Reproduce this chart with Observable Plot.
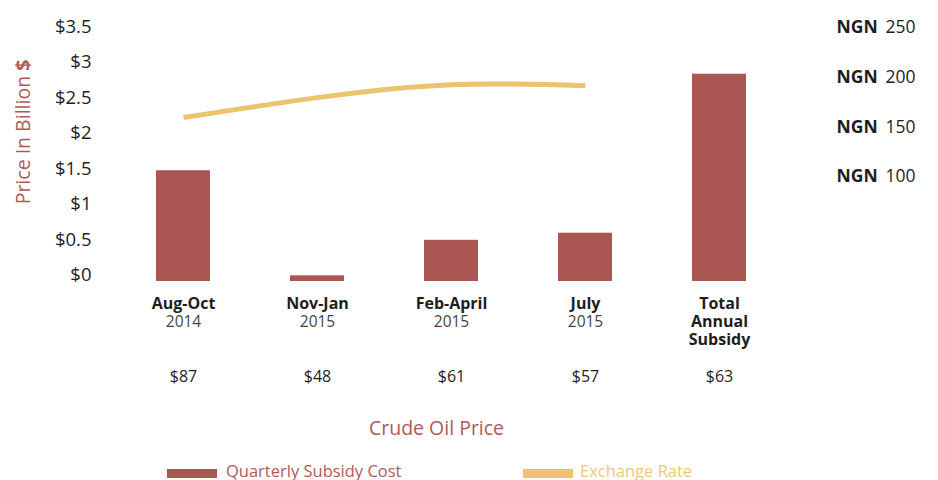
<!DOCTYPE html>
<html>
<head>
<meta charset="utf-8">
<script src="https://cdn.jsdelivr.net/npm/d3@7"></script>
<script src="https://cdn.jsdelivr.net/npm/@observablehq/plot@0.6"></script>
<style>
  html, body { margin: 0; padding: 0; background: #fff; }
  #wrap { position: relative; width: 938px; height: 480px; overflow: hidden; font-family: "Open Sans", sans-serif; }
  #wrap svg { position: absolute; left: 0; top: 0; }
  .abs { position: absolute; white-space: nowrap; }
</style>
</head>
<body>
<div id="wrap"></div>
<script>
// ---- data ----
const categories = ["Aug-Oct", "Nov-Jan", "Feb-April", "July", "Total\nAnnual\nSubsidy"];
const periods = ["2014", "2015", "2015", "2015", ""];
const subsidyCost = [1.56, 0.08, 0.58, 0.68, 2.92];          // billion $
const exchangeRate = [165, 185, 198, 197];                     // NGN per $, first four periods
const crudeOilPrice = ["$87", "$48", "$61", "$57", "$63"];
const leftTicks = [0, 0.5, 1, 1.5, 2, 2.5, 3, 3.5];
const rightTicks = [100, 150, 200, 250];

// ---- styling ----
const FONT = "Open Sans";
const RED = "#aa5754";
const RED_TEXT = "#b05a57";
const YELLOW = "#ecc46f";
const W = 938, H = 400;
const MT = 32.5, MB = 119, ML = 100, MR = 136;

const barData = categories.map((c, i) => ({cat: c, value: subsidyCost[i]}));
const lineData = exchangeRate.map((v, i) => ({cat: categories[i], value: v}));
const periodOf = new Map(categories.map((c, i) => [c, periods[i]]));
const priceOf = new Map(categories.map((c, i) => [c, crudeOilPrice[i]]));

const xScale = {type: "band", domain: categories, paddingInner: 0.6, paddingOuter: 0.409, axis: null};

const bars = Plot.plot({
  width: W, height: H, marginTop: MT, marginBottom: MB, marginLeft: ML, marginRight: MR,
  style: {fontFamily: FONT, background: "transparent", color: "#1e1e1e"},
  x: xScale,
  y: {domain: [0, 3.5], axis: null},
  marks: [
    Plot.barY(barData, {x: "cat", y: "value", fill: RED}),
    Plot.axisY({ticks: leftTicks, tickFormat: d => "$" + d, tickSize: 0, tickPadding: 9,
      fontSize: 18.5, dy: -6, label: null}),
    Plot.axisX({tickFormat: d => d, tickSize: 0, tickPadding: 15, fontSize: 16,
      fontWeight: "bold", lineHeight: 1.125, label: null}),
    Plot.axisX({tickFormat: d => periodOf.get(d), tickSize: 0, tickPadding: 34, fontSize: 15.5,
      fill: "#444", label: null}),
    Plot.axisX({tickFormat: d => priceOf.get(d), tickSize: 0, tickPadding: 89.5, fontSize: 16,
      label: null})
  ]
});

const line = Plot.plot({
  width: W, height: H, marginTop: MT, marginBottom: MB, marginLeft: ML, marginRight: MR,
  style: {fontFamily: FONT, background: "transparent", color: "#1e1e1e"},
  x: xScale,
  y: {domain: [0, 250], axis: null},
  marks: [
    Plot.line(lineData, {x: "cat", y: "value", curve: "natural", stroke: YELLOW, strokeWidth: 5,
      strokeLinecap: "butt"}),
    Plot.axisY({anchor: "right", ticks: rightTicks, tickFormat: () => "NGN", tickSize: 0,
      tickPadding: 34, fontSize: 17.5, fontWeight: "bold", dy: -5.5, label: null}),
    Plot.axisY({anchor: "right", ticks: rightTicks, tickFormat: d => String(d), tickSize: 0,
      tickPadding: 83, fontSize: 17.5, dy: -5.5, label: null})
  ]
});

const wrap = document.getElementById("wrap");
wrap.appendChild(bars);
wrap.appendChild(line);

function addDiv(html, css) {
  const d = document.createElement("div");
  d.className = "abs";
  d.innerHTML = html;
  Object.assign(d.style, css);
  wrap.appendChild(d);
  return d;
}

// y-axis title (rotated)
addDiv('Price In Billion <b>$</b>', {
  left: "-77px", top: "121.5px", width: "200px", height: "20px", lineHeight: "20px",
  textAlign: "center", fontSize: "19.5px", color: RED_TEXT, transform: "rotate(-90deg)"
});
// x-axis title
addDiv('Crude Oil Price', {
  left: "0px", top: "415px", width: "873px", textAlign: "center", fontSize: "19.5px",
  lineHeight: "26px", color: RED_TEXT
});
// legend
addDiv('', {left: "167px", top: "469px", width: "50px", height: "9px", background: RED});
addDiv('Quarterly Subsidy Cost', {left: "226px", top: "460px", fontSize: "16.5px", lineHeight: "22px", color: RED_TEXT});
addDiv('', {left: "523px", top: "469px", width: "50px", height: "9px", background: YELLOW});
addDiv('Exchange Rate', {left: "580px", top: "460px", fontSize: "16.5px", lineHeight: "22px", color: "#eec878"});
</script>
</body>
</html>
